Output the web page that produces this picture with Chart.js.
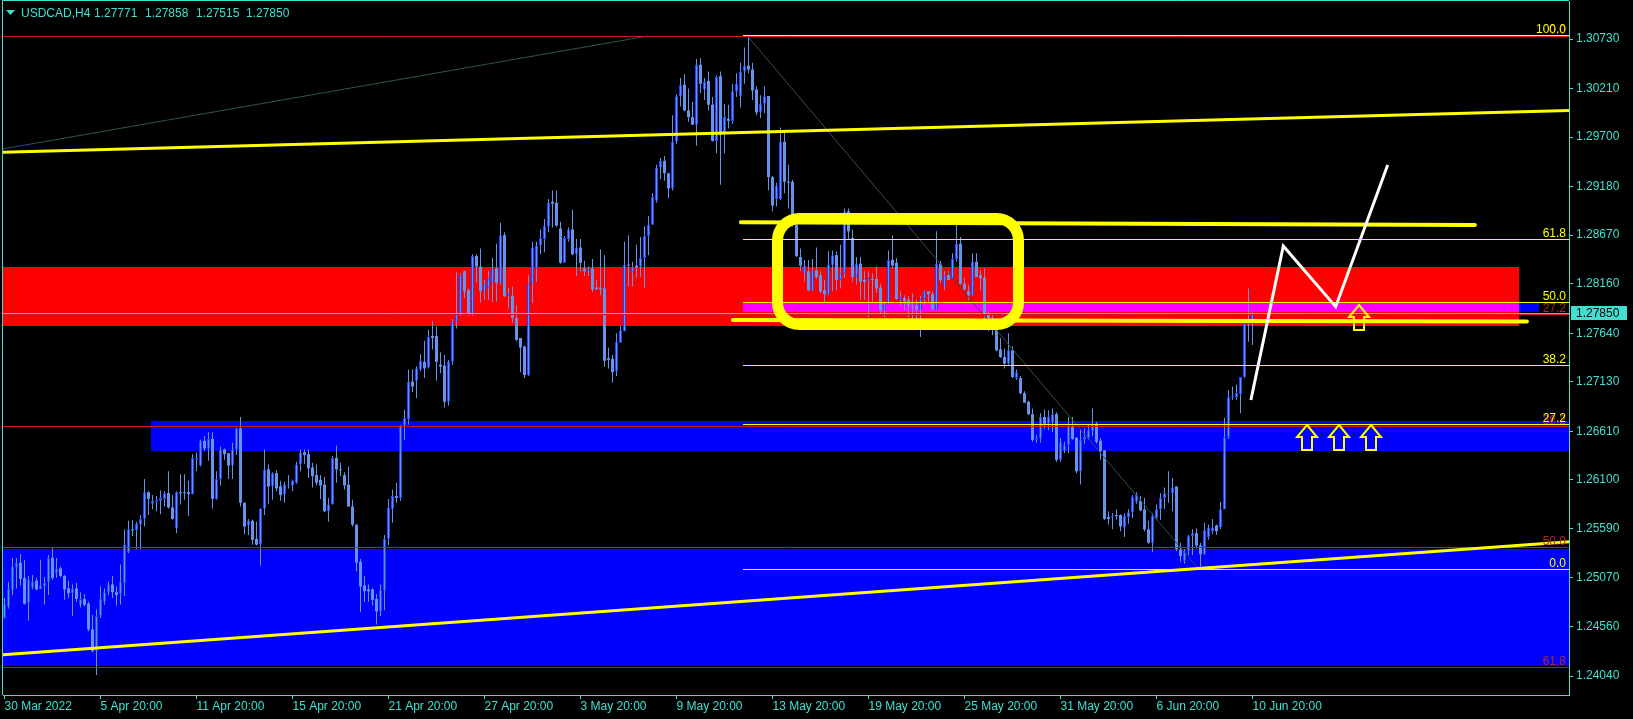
<!DOCTYPE html>
<html>
<head>
<meta charset="utf-8">
<script src="https://cdn.jsdelivr.net/npm/chart.js@4.4.1/dist/chart.umd.min.js"></script>
<style>
html,body{margin:0;padding:0;background:#000;overflow:hidden}
#c{display:block}
</style>
</head>
<body>
<canvas id="c" width="1633" height="719"></canvas>
<script>
// USDCAD H4 candles, bar 0 = 30 Mar 20:00 ... bar 312 = 10 Jun 20:00
const openP = [
1.2465,1.2477,1.2494,1.2518,1.2523,1.2507,1.2481,1.2497,1.2504,1.2495,
1.2498,1.2503,1.2528,1.2512,1.2517,1.2509,1.2496,1.2491,1.2496,1.2478,
1.2485,1.2480,1.2453,1.2430,1.2467,1.2482,1.2492,1.2500,1.2492,1.2490,
1.2502,1.2534,1.2558,1.2557,1.2563,1.2569,1.2597,1.2585,1.2587,1.2588,
1.2590,1.2596,1.2581,1.2559,1.2597,1.2597,1.2597,1.2595,1.2631,1.2625,
1.2651,1.2643,1.2653,1.2590,1.2611,1.2642,1.2638,1.2625,1.2642,1.2664,
1.2586,1.2562,1.2567,1.2548,1.2542,1.2580,1.2621,1.2603,1.2617,1.2603,
1.2595,1.2604,1.2604,1.2607,1.2626,1.2639,1.2637,1.2623,1.2615,1.2610,
1.2605,1.2577,1.2584,1.2633,1.2621,1.2615,1.2605,1.2582,1.2563,1.2524,
1.2499,1.2495,1.2495,1.2485,1.2472,1.2494,1.2548,1.2579,1.2593,1.2591,
1.2667,1.2674,1.2713,1.2714,1.2726,1.2734,1.2728,1.2761,1.2761,1.2731,
1.2730,1.2692,1.2734,1.2776,1.2783,1.2829,1.2809,1.2783,1.2845,1.2834,
1.2808,1.2812,1.2817,1.2832,1.2817,1.2867,1.2803,1.2803,1.2780,1.2759,
1.2750,1.2720,1.2816,1.2832,1.2856,1.2863,1.2876,1.2902,1.2901,1.2874,
1.2838,1.2863,1.2873,1.2847,1.2854,1.2832,1.2829,1.2832,1.2812,1.2812,
1.2811,1.2738,1.2737,1.2724,1.2754,1.2766,1.2836,1.2828,1.2835,1.2834,
1.2843,1.2866,1.2878,1.2903,1.2938,1.2945,1.2932,1.2916,1.2965,1.3013,
1.3025,1.2998,1.2991,1.2983,1.3046,1.3020,1.3029,1.3004,1.2966,1.3034,
1.2974,1.2989,1.2987,1.3018,1.3013,1.3039,1.3045,1.3041,1.3020,1.2996,
1.3005,1.3013,1.2928,1.2905,1.2905,1.2965,1.2923,1.2923,1.2878,1.2844,
1.2827,1.2829,1.2809,1.2830,1.2825,1.2809,1.2805,1.2835,1.2846,1.2820,
1.2827,1.2892,1.2864,1.2823,1.2837,1.2820,1.2819,1.2821,1.2821,1.2812,
1.2788,1.2794,1.2841,1.2838,1.2799,1.2801,1.2799,1.2793,1.2793,1.2789,
1.2800,1.2808,1.2805,1.2789,1.2837,1.2813,1.2825,1.2821,1.2842,1.2858,
1.2816,1.2808,1.2804,1.2839,1.2825,1.2822,1.2785,1.2780,1.2768,1.2747,
1.2739,1.2732,1.2746,1.2717,1.2717,1.2701,1.2692,1.2679,1.2652,1.2654,
1.2676,1.2669,1.2670,1.2679,1.2631,1.2640,1.2647,1.2666,1.2654,1.2619,
1.2652,1.2654,1.2661,1.2669,1.2651,1.2641,1.2571,1.2571,1.2573,1.2573,
1.2560,1.2571,1.2576,1.2587,1.2588,1.2579,1.2558,1.2544,1.2570,1.2579,
1.2591,1.2595,1.2596,1.2603,1.2537,1.2525,1.2535,1.2551,1.2554,1.2541,
1.2532,1.2550,1.2556,1.2562,1.2560,1.2579,1.2655,1.2697,1.2697,1.2700,
1.2718,1.2774,1.27771
];
const highP = [
1.2486,1.2503,1.2528,1.2528,1.2532,1.2526,1.2509,1.2510,1.2507,1.2526,
1.2508,1.2531,1.2539,1.2528,1.2519,1.2510,1.2504,1.2500,1.2502,1.2492,
1.2490,1.2482,1.2468,1.2474,1.2498,1.2496,1.2503,1.2509,1.2498,1.2521,
1.2558,1.2567,1.2568,1.2566,1.2573,1.2611,1.2598,1.2594,1.2593,1.2599,
1.2598,1.2619,1.2594,1.2598,1.2616,1.2616,1.2609,1.2637,1.2639,1.2652,
1.2656,1.2660,1.2660,1.2619,1.2645,1.2643,1.2638,1.2649,1.2665,1.2676,
1.2586,1.2569,1.2568,1.2566,1.2580,1.2642,1.2626,1.2618,1.2620,1.2609,
1.2608,1.2615,1.2610,1.2629,1.2642,1.2642,1.2642,1.2628,1.2626,1.2615,
1.2613,1.2591,1.2635,1.2646,1.2628,1.2618,1.2624,1.2589,1.2563,1.2527,
1.2509,1.2500,1.2496,1.2490,1.2500,1.2552,1.2590,1.2600,1.2607,1.2668,
1.2684,1.2726,1.2726,1.2729,1.2742,1.2756,1.2768,1.2777,1.2771,1.2744,
1.2741,1.2736,1.2779,1.2828,1.2827,1.2830,1.2811,1.2847,1.2847,1.2853,
1.2820,1.2830,1.2843,1.2858,1.2880,1.2870,1.2812,1.2813,1.2793,1.2759,
1.2751,1.2825,1.2860,1.2860,1.2873,1.2884,1.2905,1.2914,1.2914,1.2881,
1.2866,1.2875,1.2894,1.2863,1.2863,1.2840,1.2834,1.2842,1.2820,1.2852,
1.2846,1.2749,1.2741,1.2764,1.2772,1.2860,1.2867,1.2839,1.2857,1.2865,
1.2876,1.2887,1.2911,1.2941,1.2948,1.2950,1.2932,1.2993,1.3015,1.3032,
1.3036,1.3021,1.3007,1.3052,1.3053,1.3032,1.3039,1.3012,1.3035,1.3039,
1.3005,1.3004,1.3026,1.3037,1.3048,1.3064,1.3077,1.3048,1.3023,1.3014,
1.3023,1.3013,1.2929,1.2922,1.2980,1.2976,1.2941,1.2925,1.2878,1.2853,
1.2841,1.2841,1.2842,1.2854,1.2829,1.2820,1.2850,1.2851,1.2850,1.2857,
1.2895,1.2895,1.2873,1.2844,1.2844,1.2829,1.2829,1.2827,1.2834,1.2816,
1.2797,1.2851,1.2867,1.2843,1.2808,1.2804,1.2803,1.2806,1.2799,1.2803,
1.2809,1.2808,1.2808,1.2871,1.2840,1.2829,1.2829,1.2848,1.2878,1.2865,
1.2822,1.2815,1.2848,1.2848,1.2830,1.2832,1.2787,1.2783,1.2771,1.2759,
1.2748,1.2764,1.2750,1.2726,1.2719,1.2703,1.2693,1.2685,1.2657,1.2680,
1.2684,1.2683,1.2685,1.2681,1.2654,1.2650,1.2676,1.2676,1.2655,1.2663,
1.2664,1.2668,1.2685,1.2671,1.2654,1.2641,1.2577,1.2575,1.2579,1.2574,
1.2575,1.2579,1.2594,1.2597,1.2593,1.2591,1.2567,1.2575,1.2584,1.2596,
1.2602,1.2619,1.2612,1.2603,1.2544,1.2537,1.2552,1.2558,1.2559,1.2544,
1.2565,1.2563,1.2569,1.2563,1.2587,1.2675,1.2704,1.2708,1.2710,1.2718,
1.2776,1.2811,1.27858
];
const lowP = [
1.2464,1.2475,1.2489,1.2496,1.2499,1.2479,1.2462,1.2495,1.2494,1.2495,
1.2479,1.2489,1.2505,1.2507,1.2508,1.2484,1.2486,1.2467,1.2482,1.2476,
1.2477,1.2451,1.2429,1.2405,1.2465,1.2479,1.2489,1.2486,1.2478,1.2479,
1.2488,1.2533,1.2551,1.2537,1.2537,1.2561,1.2573,1.2579,1.2577,1.2574,
1.2582,1.2580,1.2568,1.2554,1.2584,1.2589,1.2572,1.2595,1.2619,1.2624,
1.2640,1.2630,1.2580,1.2589,1.2604,1.2631,1.2611,1.2611,1.2636,1.2582,
1.2553,1.2552,1.2542,1.2541,1.2520,1.2573,1.2585,1.2589,1.2598,1.2588,
1.2586,1.2601,1.2598,1.2606,1.2619,1.2627,1.2612,1.2602,1.2604,1.2590,
1.2576,1.2566,1.2584,1.2607,1.2614,1.2600,1.2582,1.2561,1.2514,1.2471,
1.2482,1.2482,1.2478,1.2458,1.2467,1.2473,1.2541,1.2565,1.2586,1.2588,
1.2652,1.2668,1.2702,1.2696,1.2724,1.2717,1.2727,1.2747,1.2714,1.2722,
1.2686,1.2688,1.2731,1.2769,1.2782,1.2801,1.2783,1.2782,1.2817,1.2796,
1.2799,1.2799,1.2797,1.2797,1.2815,1.2802,1.2790,1.2775,1.2756,1.2723,
1.2717,1.2719,1.2796,1.2818,1.2847,1.2849,1.2870,1.2875,1.2876,1.2837,
1.2838,1.2860,1.2846,1.2824,1.2829,1.2824,1.2824,1.2807,1.2810,1.2804,
1.2729,1.2727,1.2712,1.2719,1.2754,1.2766,1.2813,1.2813,1.2822,1.2823,
1.2811,1.2846,1.2878,1.2901,1.2926,1.2924,1.2906,1.2914,1.2963,1.3002,
1.2997,1.2986,1.2983,1.2961,1.3016,1.3009,1.2998,1.2965,1.2953,1.2920,
1.2953,1.2979,1.2984,1.3012,1.3001,1.3026,1.3037,1.3009,1.2993,1.2990,
1.2995,1.2914,1.2892,1.2897,1.2904,1.2911,1.2895,1.2876,1.2844,1.2829,
1.2818,1.2808,1.2808,1.2821,1.2806,1.2796,1.2804,1.2808,1.2809,1.2811,
1.2822,1.2862,1.2818,1.2815,1.2799,1.2799,1.2781,1.2797,1.2806,1.2785,
1.2781,1.2794,1.2832,1.2799,1.2792,1.2788,1.2781,1.2780,1.2780,1.2760,
1.2794,1.2797,1.2788,1.2788,1.2817,1.2809,1.2820,1.2821,1.2839,1.2815,
1.2809,1.2799,1.2803,1.2823,1.2809,1.2780,1.2766,1.2762,1.2745,1.2738,
1.2727,1.2731,1.2717,1.2715,1.2700,1.2691,1.2678,1.2650,1.2649,1.2649,
1.2664,1.2662,1.2660,1.2629,1.2629,1.2638,1.2638,1.2652,1.2617,1.2605,
1.2648,1.2652,1.2656,1.2648,1.2631,1.2568,1.2563,1.2558,1.2568,1.2556,
1.2550,1.2564,1.2570,1.2585,1.2577,1.2556,1.2543,1.2534,1.2568,1.2568,
1.2579,1.2586,1.2577,1.2535,1.2524,1.2522,1.2531,1.2531,1.2538,1.2519,
1.2531,1.2547,1.2553,1.2552,1.2558,1.2579,1.2653,1.2694,1.2694,1.2680,
1.2717,1.2755,1.27515
];
const closeP = [
1.2480,1.2495,1.2519,1.2523,1.2506,1.2480,1.2505,1.2503,1.2495,1.2499,
1.2502,1.2528,1.2507,1.2517,1.2509,1.2495,1.2491,1.2496,1.2485,1.2485,
1.2479,1.2453,1.2430,1.2467,1.2485,1.2492,1.2500,1.2492,1.2489,1.2503,
1.2542,1.2558,1.2557,1.2564,1.2569,1.2597,1.2590,1.2588,1.2589,1.2591,
1.2596,1.2581,1.2569,1.2597,1.2596,1.2596,1.2595,1.2633,1.2633,1.2651,
1.2643,1.2653,1.2590,1.2611,1.2642,1.2637,1.2625,1.2642,1.2664,1.2586,
1.2561,1.2567,1.2547,1.2542,1.2580,1.2621,1.2603,1.2617,1.2601,1.2594,
1.2605,1.2605,1.2609,1.2626,1.2639,1.2636,1.2622,1.2614,1.2607,1.2604,
1.2577,1.2584,1.2633,1.2621,1.2620,1.2604,1.2582,1.2563,1.2523,1.2498,
1.2493,1.2493,1.2484,1.2472,1.2494,1.2548,1.2581,1.2593,1.2591,1.2667,
1.2675,1.2713,1.2708,1.2727,1.2735,1.2727,1.2760,1.2759,1.2734,1.2729,
1.2692,1.2734,1.2776,1.2784,1.2825,1.2808,1.2783,1.2845,1.2834,1.2808,
1.2816,1.2822,1.2832,1.2817,1.2867,1.2803,1.2806,1.2780,1.2757,1.2749,
1.2720,1.2816,1.2854,1.2856,1.2864,1.2877,1.2901,1.2900,1.2877,1.2838,
1.2864,1.2873,1.2847,1.2854,1.2838,1.2829,1.2832,1.2810,1.2810,1.2810,
1.2735,1.2736,1.2723,1.2755,1.2767,1.2836,1.2835,1.2833,1.2833,1.2843,
1.2866,1.2878,1.2907,1.2938,1.2945,1.2932,1.2916,1.2965,1.3013,1.3025,
1.2998,1.2991,1.2983,1.3046,1.3026,1.3028,1.3004,1.2966,1.3033,1.2972,
1.2991,1.2987,1.3018,1.3026,1.3039,1.3045,1.3041,1.3019,1.2996,1.3005,
1.3013,1.2928,1.2898,1.2919,1.2965,1.2923,1.2922,1.2878,1.2845,1.2835,
1.2835,1.2809,1.2830,1.2823,1.2808,1.2805,1.2836,1.2846,1.2820,1.2827,
1.2892,1.2871,1.2823,1.2837,1.2818,1.2818,1.2822,1.2820,1.2811,1.2788,
1.2794,1.2841,1.2835,1.2800,1.2802,1.2798,1.2793,1.2792,1.2789,1.2800,
1.2808,1.2805,1.2789,1.2837,1.2820,1.2825,1.2820,1.2842,1.2858,1.2816,
1.2810,1.2804,1.2839,1.2823,1.2822,1.2784,1.2780,1.2768,1.2746,1.2739,
1.2732,1.2746,1.2718,1.2723,1.2701,1.2691,1.2679,1.2652,1.2654,1.2676,
1.2669,1.2676,1.2679,1.2631,1.2650,1.2647,1.2666,1.2653,1.2619,1.2652,
1.2655,1.2662,1.2669,1.2650,1.2640,1.2569,1.2569,1.2572,1.2572,1.2561,
1.2572,1.2576,1.2592,1.2594,1.2578,1.2558,1.2544,1.2572,1.2579,1.2591,
1.2596,1.2596,1.2602,1.2537,1.2530,1.2535,1.2551,1.2554,1.2541,1.2532,
1.2557,1.2560,1.2560,1.2556,1.2579,1.2655,1.2697,1.2698,1.2701,1.2718,
1.2774,1.2777,1.27850
];

// time axis labels, one every 24 bars
const timeLabels = ['30 Mar 2022','5 Apr 20:00','11 Apr 20:00','15 Apr 20:00','21 Apr 20:00','27 Apr 20:00',
  '3 May 20:00','9 May 20:00','13 May 20:00','19 May 20:00','25 May 20:00','31 May 20:00','6 Jun 20:00','10 Jun 20:00'];
const barsPerLabel = 24;
const priceTicks = [1.30730,1.30210,1.29700,1.29180,1.28670,1.28160,1.27640,1.27130,1.26610,1.26100,1.25590,1.25070,1.24560,1.24040];
const symbol = 'USDCAD,H4';

// fibo levels
const fiboLevels = [0, 27.2, 38.2, 50, 61.8, 100];
const redFiboLevels = [0, 27.2, 38.2, 50, 61.8];

// chart objects (bar index / price)
const redFibo = {from: -2, p0: 1.30762, p100: 1.2003};
const yellowFibo = {from: 184.6, p100: 1.30769, p0: 1.25164};
const zones = [
  {v0: -2, v1: 378.6, top: 1.28336, bot: 1.27716, color: '#FF0000'},
  {v0: 36.6, v1: 400, top: 1.26718, bot: 1.26403, color: '#0000FF'},
  {v0: -2, v1: 400, top: 1.25379, bot: 1.24145, color: '#0000FF'},
  {v0: 184.6, v1: 383.6, top: 1.27968, bot: 1.27858, color: '#0000FF'}
];
const trendLines = [
  {pts: [[-1.2, 1.2954], [391.2, 1.2998]], width: 3, cap: 'butt'},
  {pts: [[-1.2, 1.2426], [391.2, 1.2545]], width: 3, cap: 'butt'},
  {pts: [[184.1, 1.28805], [367.6, 1.28777]], width: 4, cap: 'round'},
  {pts: [[182.1, 1.27779], [380.6, 1.27763]], width: 4, cap: 'round'}
];
const diagLines = [
  [[-0.5, 1.29575], [160.9, 1.30762]],
  [[185.6, 1.30769], [298.1, 1.25185]]
];
const box = {v0: 193.25, v1: 253.5, top: 1.28845, bot: 1.27732};
const zigzag = [[311.6, 1.26939], [319.7, 1.28556], [332.8, 1.27919], [345.8, 1.29407]];
const arrows = [[325.55, 1.26676], [333.6, 1.26676], [341.6, 1.26676], [338.6, 1.27937]];

const CYAN = '#40E0D0';
const CANDLE = '#6495ED';
const BULL_EDGE = '#1F45FF';

const idx = closeP.map((_, i) => i);
const isBull = i => closeP[i] >= openP[i];

// no extra label padding around the plot
const noPad = s => { s.paddingTop = 0; s.paddingBottom = 0; s.paddingLeft = 0; s.paddingRight = 0; };

const mtObjects = {
  id: 'mtObjects',
  beforeDraw(chart) {
    const c = chart.ctx;
    c.save();
    c.fillStyle = '#000';
    c.fillRect(0, 0, chart.width, chart.height);
    c.restore();
  },
  beforeDatasetsDraw(chart) {
    const {ctx: c, chartArea: a, scales: {x, y}} = chart;
    c.save();
    c.beginPath(); c.rect(a.left, a.top, a.right - a.left, a.bottom - a.top); c.clip();
    c.globalCompositeOperation = 'lighter';
    zones.forEach(z => {
      const x0 = Math.round(x.getPixelForValue(z.v0)), x1 = Math.round(x.getPixelForValue(z.v1));
      const y0 = Math.round(y.getPixelForValue(z.top)), y1 = Math.round(y.getPixelForValue(z.bot));
      c.fillStyle = z.color;
      c.fillRect(x0, y0, x1 - x0, y1 - y0);
    });
    c.restore();
  },
  afterDatasetsDraw(chart) {
    const {ctx: c, chartArea: a, scales: {x, y}} = chart;
    const X = v => x.getPixelForValue(v), Y = p => y.getPixelForValue(p);
    const hy = p => Math.round(Y(p)) + 0.5;
    c.save();
    c.beginPath(); c.rect(a.left, a.top, a.right - a.left, a.bottom - a.top); c.clip();

    // bid line
    c.strokeStyle = '#A8A8A8'; c.lineWidth = 1;
    c.beginPath(); c.moveTo(a.left, hy(closeP[closeP.length - 1])); c.lineTo(a.right, hy(closeP[closeP.length - 1])); c.stroke();

    // diagonal fibo trend lines
    c.strokeStyle = '#2F5252'; c.lineWidth = 1;
    diagLines.forEach(l => {
      c.beginPath(); c.moveTo(X(l[0][0]), Y(l[0][1])); c.lineTo(X(l[1][0]), Y(l[1][1])); c.stroke();
    });

    // red fibo
    c.strokeStyle = '#D01A1A';
    redFiboLevels.forEach(l => {
      const p = redFibo.p0 - l / 100 * (redFibo.p0 - redFibo.p100);
      c.beginPath(); c.moveTo(X(redFibo.from), hy(p)); c.lineTo(a.right, hy(p)); c.stroke();
    });
    // yellow fibo
    c.strokeStyle = '#FFFF00';
    fiboLevels.forEach(l => {
      const p = yellowFibo.p0 + l / 100 * (yellowFibo.p100 - yellowFibo.p0);
      c.beginPath(); c.moveTo(Math.round(X(yellowFibo.from)), hy(p)); c.lineTo(a.right, hy(p)); c.stroke();
    });

    // thick yellow lines
    c.strokeStyle = '#FFFF00';
    trendLines.forEach(t => {
      c.lineWidth = t.width; c.lineCap = t.cap;
      c.beginPath(); c.moveTo(X(t.pts[0][0]), Y(t.pts[0][1])); c.lineTo(X(t.pts[1][0]), Y(t.pts[1][1])); c.stroke();
    });
    c.lineCap = 'butt';

    // rounded box
    c.lineWidth = 11;
    c.beginPath();
    c.roundRect(X(box.v0), Y(box.top), X(box.v1) - X(box.v0), Y(box.bot) - Y(box.top), 22);
    c.stroke();

    // white zigzag
    c.strokeStyle = '#FFFFFF'; c.lineWidth = 3; c.lineJoin = 'miter';
    c.beginPath();
    zigzag.forEach((pt, k) => k ? c.lineTo(X(pt[0]), Y(pt[1])) : c.moveTo(X(pt[0]), Y(pt[1])));
    c.stroke();

    // hollow up arrows
    c.strokeStyle = '#FFFF00'; c.lineWidth = 2; c.lineJoin = 'miter';
    arrows.forEach(ar => {
      const cx = Math.round(X(ar[0])), ty = Math.round(Y(ar[1]));
      c.beginPath();
      c.moveTo(cx, ty);
      c.lineTo(cx + 10, ty + 12); c.lineTo(cx + 5, ty + 12); c.lineTo(cx + 5, ty + 25);
      c.lineTo(cx - 5, ty + 25); c.lineTo(cx - 5, ty + 12); c.lineTo(cx - 10, ty + 12);
      c.closePath(); c.stroke();
    });

    // fibo labels
    c.font = '12px "Liberation Sans", Arial, sans-serif';
    c.textAlign = 'right'; c.textBaseline = 'alphabetic';
    c.fillStyle = '#B3262A';
    redFiboLevels.forEach(l => {
      const p = redFibo.p0 - l / 100 * (redFibo.p0 - redFibo.p100);
      c.fillText(l.toFixed(1), a.right - 3, Math.round(Y(p)) - 2);
    });
    c.fillStyle = '#FFFF00';
    fiboLevels.forEach(l => {
      const p = yellowFibo.p0 + l / 100 * (yellowFibo.p100 - yellowFibo.p0);
      c.fillText(l.toFixed(1), a.right - 3, Math.round(Y(p)) - 2);
    });
    c.restore();
  },
  afterDraw(chart) {
    const {ctx: c, chartArea: a, scales: {y}} = chart;
    c.save();
    // frame
    c.strokeStyle = CYAN; c.lineWidth = 1;
    c.beginPath();
    c.moveTo(a.left - 0.5, a.bottom); c.lineTo(a.left - 0.5, a.top - 0.5); c.lineTo(a.right, a.top - 0.5);
    c.stroke();
    // price box
    const last = closeP.length - 1;
    const py = Math.round(y.getPixelForValue(closeP[last]));
    c.fillStyle = CYAN;
    c.fillRect(a.right + 2, py - 7, 56, 14);
    c.fillStyle = '#000';
    c.font = '12px "Liberation Sans", Arial, sans-serif';
    c.textAlign = 'left'; c.textBaseline = 'middle';
    c.fillText(closeP[last].toFixed(5), a.right + 7, py + 0.5);
    // header
    c.fillStyle = CYAN;
    c.beginPath(); c.moveTo(6, 10); c.lineTo(15, 10); c.lineTo(10.5, 15); c.closePath(); c.fill();
    c.textBaseline = 'alphabetic';
    c.fillText(symbol, 21, 17);
    const q = [openP[last], highP[last], lowP[last], closeP[last]];
    [94, 145, 196, 246].forEach((xx, k) => c.fillText(q[k].toFixed(5), xx, 17));
    c.restore();
  }
};

Chart.defaults.font.family = '"Liberation Sans", Arial, sans-serif';
Chart.defaults.font.size = 12;

new Chart(document.getElementById('c').getContext('2d'), {
  type: 'bar',
  data: {
    datasets: [
      {
        data: idx.map(i => ({x: i, y: [openP[i], closeP[i]]})),
        barThickness: 3,
        minBarLength: 1,
        grouped: false,
        backgroundColor: CANDLE,
        borderColor: ctx => isBull(ctx.dataIndex) ? BULL_EDGE : CANDLE,
        borderWidth: ctx => isBull(ctx.dataIndex) ? 1 : 0,
        borderSkipped: false,
        inflateAmount: 0,
        order: 1
      },
      {
        data: idx.map(i => ({x: i, y: [lowP[i], highP[i]]})),
        barThickness: 1,
        grouped: false,
        backgroundColor: CANDLE,
        borderWidth: 0,
        inflateAmount: 0,
        order: 2
      }
    ]
  },
  options: {
    responsive: false,
    animation: false,
    devicePixelRatio: 1,
    layout: {padding: {left: 3, top: 1, right: 0, bottom: 0}},
    plugins: {legend: {display: false}, tooltip: {enabled: false}},
    scales: {
      x: {
        type: 'linear',
        offset: false,
        min: -0.375,
        max: 391.125,
        afterBuildTicks: s => { s.ticks = timeLabels.map((_, k) => ({value: k * barsPerLabel})); },
        afterFit: s => { s.height = 24; noPad(s); },
        grid: {display: true, drawOnChartArea: false, offset: false, tickLength: 4, color: CYAN},
        border: {color: CYAN},
        ticks: {
          color: CYAN, align: 'start', maxRotation: 0, autoSkip: false, padding: 0,
          callback: (v, k) => timeLabels[k]
        }
      },
      y: {
        type: 'linear',
        position: 'right',
        beginAtZero: false,
        min: 1.238405,
        max: 1.311291,
        afterBuildTicks: s => { s.ticks = priceTicks.map(v => ({value: v})); },
        afterFit: s => { s.width = 64; noPad(s); },
        grid: {display: true, drawOnChartArea: false, tickLength: 4, color: CYAN},
        border: {color: CYAN},
        ticks: {color: CYAN, padding: 3, autoSkip: false, callback: v => v.toFixed(5)}
      }
    }
  },
  plugins: [mtObjects]
});
</script>
</body>
</html>
